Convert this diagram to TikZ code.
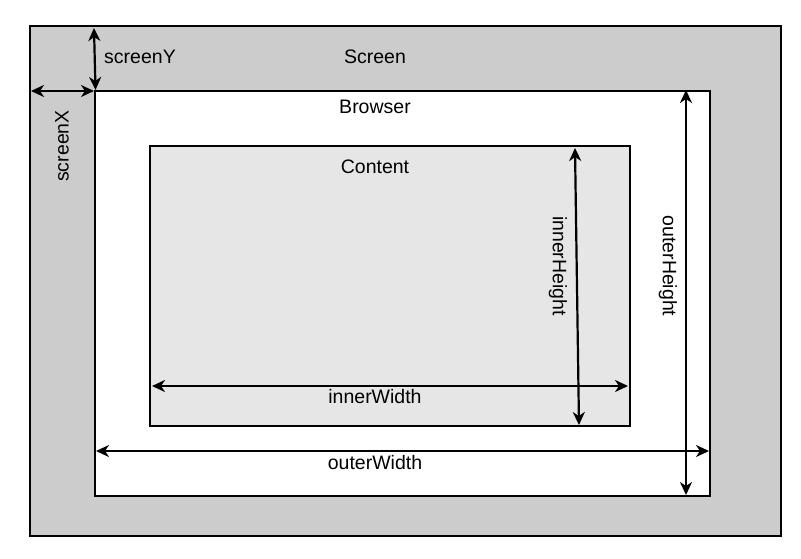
\documentclass[tikz,border=0pt]{standalone}
\usepackage{fontspec}
\setmainfont{Liberation Sans}
\usetikzlibrary{arrows.meta}
\definecolor{screengray}{HTML}{CCCCCC}
\definecolor{contentgray}{HTML}{E6E6E6}
\begin{document}
\begin{tikzpicture}[x=1pt,y=-1pt,
  panel/.style={draw=black,line width=1.2pt,inner sep=0pt,outer sep=0pt},
  measure/.style={line width=2.2pt,{Stealth[length=13pt,width=12pt,inset=4pt]}-{Stealth[length=13pt,width=12pt,inset=4pt]}},
  lbl/.style={font=\fontsize{19.5}{23}\selectfont,inner sep=0pt}]
\useasboundingbox (0,0) rectangle (801,558);
% nested windows
\draw[panel,fill=screengray] (30,26) rectangle (781,536);
\draw[panel,fill=white] (95,91) rectangle (710,496);
\draw[panel,fill=contentgray] (150,146) rectangle (630,426);
% end points of the measures
\coordinate (sYa) at (94,28);
\coordinate (sYb) at (95.5,90);
\coordinate (sXa) at (31,91);
\coordinate (sXb) at (94,91);
\coordinate (iHa) at (575,148);
\coordinate (iHb) at (579,425);
\coordinate (iWa) at (152,386);
\coordinate (iWb) at (628,386);
\coordinate (oHa) at (686,90);
\coordinate (oHb) at (686,495);
\coordinate (oWa) at (96,451);
\coordinate (oWb) at (709,451);
\draw[measure] (sYa) -- (sYb);
\draw[measure] (sXa) -- (sXb);
\draw[measure] (iHa) -- (iHb);
\draw[measure] (iWa) -- (iWb);
\draw[measure] (oHa) -- (oHb);
\draw[measure] (oWa) -- (oWb);
% labels
\node[lbl] (screen) at (375,57) {Screen};
\node[lbl] (browser) at (375,107) {Browser};
\node[lbl] (content) at (375,167) {Content};
\node[lbl] (screenY) at (140,57) {screenY};
\node[lbl,rotate=90] (screenX) at (62,146) {screenX};
\node[lbl,rotate=-90] (innerHeight) at (558,266) {innerHeight};
\node[lbl,rotate=-90] (outerHeight) at (668,266) {outerHeight};
\node[lbl] (innerWidth) at (375,397) {innerWidth};
\node[lbl] (outerWidth) at (375,463) {outerWidth};
\end{tikzpicture}
\end{document}
